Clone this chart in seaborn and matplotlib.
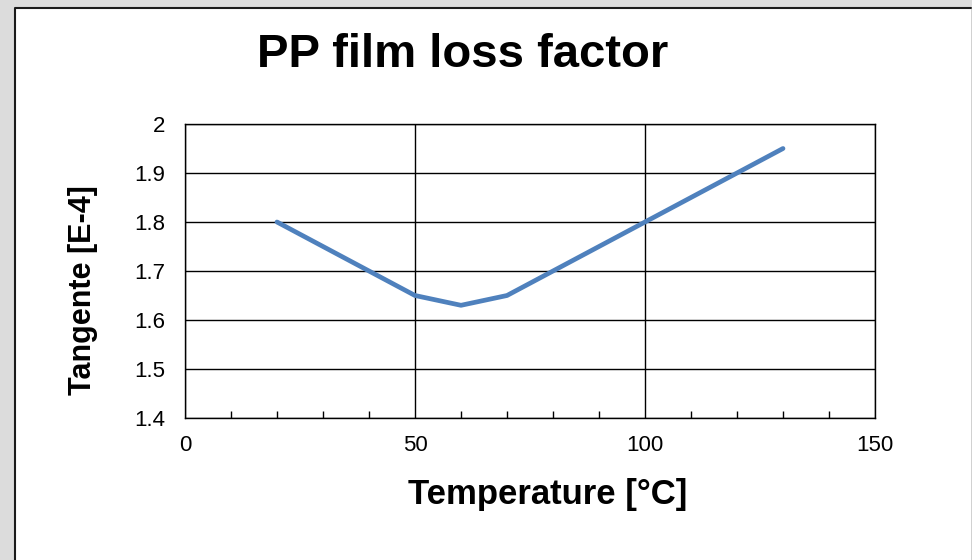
import pandas as pd
import matplotlib
matplotlib.use('Agg')
import matplotlib.pyplot as plt
import matplotlib.patches as mpatches
from matplotlib.lines import Line2D
from matplotlib.ticker import MultipleLocator
import seaborn as sns

# Data
temperature = [20, 50, 60, 70, 80, 90, 100, 110, 120, 130]
tangent = [1.80, 1.65, 1.63, 1.65, 1.70, 1.75, 1.80, 1.85, 1.90, 1.95]
x_ticks = [0, 50, 100, 150]
y_ticks = [1.4, 1.5, 1.6, 1.7, 1.8, 1.9, 2.0]

df = pd.DataFrame({'Temperature': temperature, 'Tangent': tangent})

sns.set_style('white')
plt.rcParams['font.family'] = ['Liberation Sans', 'DejaVu Sans']
plt.rcParams['text.color'] = 'black'
plt.rcParams['axes.labelcolor'] = 'black'

fig = plt.figure(figsize=(9.72, 5.6), dpi=100)
fig.patch.set_facecolor('#dcdcdc')

# white slide panel, dark edge on left and top only
x0, x1, ytop = 15 / 972, 970.5 / 972, 1 - 7.5 / 560
panel = mpatches.Rectangle((x0, -0.01), x1 - x0, ytop + 0.01,
                           transform=fig.transFigure, facecolor='white',
                           edgecolor='none', zorder=-10)
fig.add_artist(panel)
fig.add_artist(Line2D([x0, x0, x1], [0, ytop, ytop], transform=fig.transFigure,
                      color='#1a1a1a', linewidth=1.5, zorder=-9))
fig.add_artist(Line2D([971.5 / 972, 971.5 / 972], [0, ytop], transform=fig.transFigure,
                      color='#a8a8a8', linewidth=1, zorder=-9))

ax = fig.add_axes([185 / 972, 1 - 418 / 560, (875 - 185) / 972, (418 - 124) / 560])
ax.set_facecolor('none')
ax.set_zorder(1)

sns.lineplot(data=df, x='Temperature', y='Tangent', ax=ax, color='#4f81bd',
             linewidth=3.4, zorder=3)

ax.set_xlim(0, 150)
ax.set_ylim(1.4, 2.0)
ax.set_xticks(x_ticks)
ax.set_yticks(y_ticks)
ax.set_yticklabels(['%g' % v for v in y_ticks])
ax.xaxis.set_minor_locator(MultipleLocator(10))
ax.tick_params(axis='x', which='major', direction='out', length=6, width=1,
               labelsize=16, colors='black', pad=6)
ax.tick_params(axis='x', which='minor', direction='in', length=5, width=1,
               bottom=True, color='black')
ax.tick_params(axis='y', which='major', direction='out', length=6, width=1,
               labelsize=16, colors='black', pad=8)

ax.grid(True, which='major', color='black', linewidth=1)
for side in ['left', 'bottom', 'top', 'right']:
    ax.spines[side].set_color('black')
    ax.spines[side].set_linewidth(1)

ax.set_xlabel('Temperature [°C]', fontsize=25, fontweight='bold', color='black')
ax.xaxis.set_label_coords((548 - 185) / 690, -(478 - 418) / 294)
ax.set_ylabel('Tangente [E-4]', fontsize=22, fontweight='bold', color='black')
ax.yaxis.set_label_coords(-(185 - 98) / 690, 1 - (290 - 124) / 294)

fig.text(463 / 972, 1 - 55 / 560, 'PP film loss factor', ha='center', va='center',
         fontsize=34, fontweight='bold', color='black')

fig.savefig('out.png', dpi=100, facecolor=fig.get_facecolor())
